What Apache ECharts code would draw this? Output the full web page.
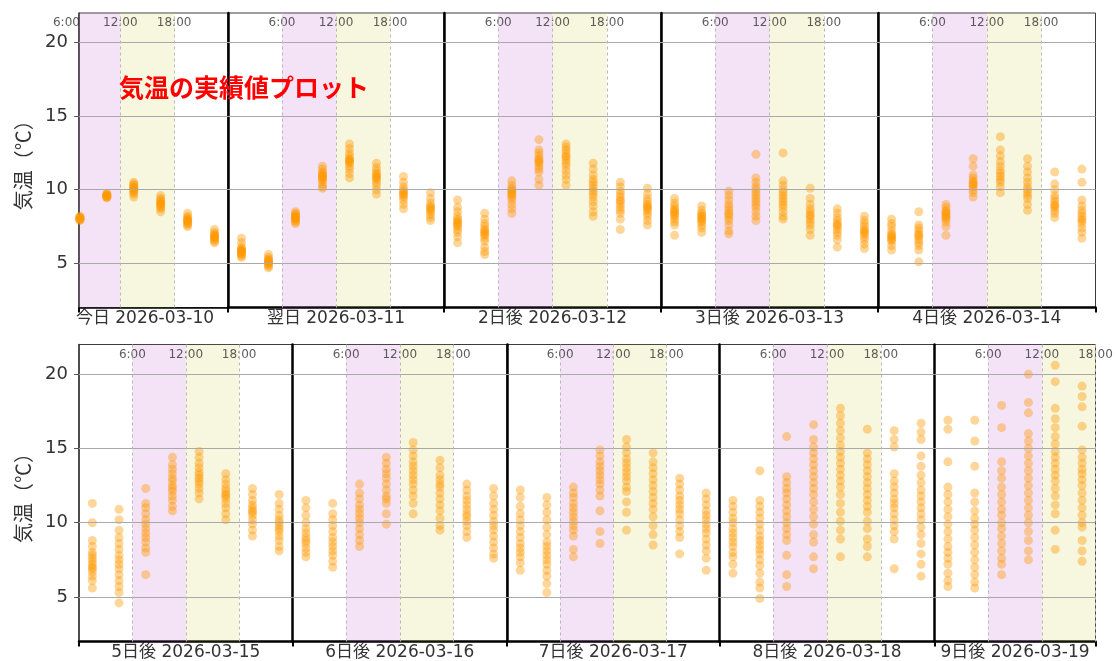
<!DOCTYPE html>
<html>
<head>
<meta charset="utf-8">
<script src="https://cdn.jsdelivr.net/npm/echarts@6/dist/echarts.min.js"></script>
<style>
  html, body { margin: 0; padding: 0; background: #fff; }
  #chart { width: 1117px; height: 661px; }
</style>
</head>
<body>
<div id="chart"></div>
<script>
// 3-hour slots, plotted at the middle of each slot (hours of the day)
const slotHours = [1.5, 4.5, 7.5, 10.5, 13.5, 16.5, 19.5, 22.5];
const bandHours = [6, 12, 18];
const yTicks = [5, 10, 15, 20];
const dayLabels = [
  '今日 2026-03-10', '翌日 2026-03-11', '2日後 2026-03-12', '3日後 2026-03-13', '4日後 2026-03-14',
  '5日後 2026-03-15', '6日後 2026-03-16', '7日後 2026-03-17', '8日後 2026-03-18', '9日後 2026-03-19'
];
// visible hour range of each day panel
const dayHourMin = [7.4, 0, 0, 0, 0, 0, 0, 0, 0, 0];
const dayHourMax = [24, 24, 24, 24, 24, 24, 24, 24, 24, 18];

// member temperatures (°C) for each slot of each day
const t0310 = [
  [], [],
  [8.2, 8.15, 8.1, 8.1, 8.05, 8.0, 8.0, 7.95, 7.9],
  [9.75, 9.7, 9.65, 9.6, 9.6, 9.55, 9.5, 9.5, 9.45],
  [10.5, 10.4, 10.3, 10.2, 10.15, 10.1, 10.05, 10.0, 9.9, 9.8, 9.7, 9.5],
  [9.6, 9.4, 9.3, 9.2, 9.1, 9.05, 9.0, 8.9, 8.8, 8.7, 8.5],
  [8.4, 8.2, 8.1, 8.0, 7.95, 7.9, 7.85, 7.8, 7.7, 7.6, 7.5],
  [7.3, 7.1, 7.0, 6.9, 6.85, 6.8, 6.75, 6.7, 6.6, 6.5, 6.4]
];
const t0311 = [
  [6.7, 6.4, 6.1, 6.0, 5.9, 5.9, 5.8, 5.8, 5.7, 5.7, 5.6, 5.5, 5.4],
  [5.6, 5.4, 5.3, 5.2, 5.2, 5.1, 5.1, 5.0, 5.0, 4.9, 4.8, 4.7],
  [8.5, 8.4, 8.3, 8.2, 8.2, 8.1, 8.1, 8.0, 8.0, 7.9, 7.8, 7.7],
  [11.6, 11.4, 11.2, 11.1, 11.0, 10.9, 10.9, 10.8, 10.7, 10.6, 10.4, 10.2, 10.1],
  [13.1, 12.8, 12.5, 12.3, 12.1, 12.0, 12.0, 11.9, 11.8, 11.6, 11.4, 11.1, 10.8],
  [11.8, 11.5, 11.3, 11.1, 11.0, 10.9, 10.8, 10.7, 10.5, 10.3, 10.0, 9.7],
  [10.9, 10.5, 10.2, 10.0, 9.9, 9.8, 9.7, 9.6, 9.5, 9.3, 9.0, 8.7],
  [9.8, 9.4, 9.1, 8.9, 8.8, 8.7, 8.6, 8.5, 8.3, 8.1, 7.9]
];
const t0312 = [
  [9.3, 8.8, 8.5, 8.2, 8.0, 7.9, 7.8, 7.7, 7.6, 7.5, 7.3, 7.1, 6.8, 6.4],
  [8.4, 8.0, 7.7, 7.5, 7.3, 7.2, 7.1, 7.0, 6.9, 6.7, 6.5, 6.1, 5.8, 5.6],
  [10.6, 10.3, 10.1, 10.0, 9.9, 9.8, 9.7, 9.6, 9.5, 9.3, 9.0, 8.7, 8.4],
  [13.4, 12.7, 12.5, 12.3, 12.1, 12.0, 11.9, 11.8, 11.6, 11.4, 11.2, 10.7, 10.3],
  [13.1, 12.9, 12.7, 12.5, 12.3, 12.2, 12.0, 11.8, 11.6, 11.3, 11.0, 10.7, 10.3],
  [11.8, 11.4, 11.0, 10.7, 10.5, 10.3, 10.1, 9.9, 9.7, 9.5, 9.2, 8.9, 8.5, 8.2],
  [10.5, 10.2, 9.9, 9.7, 9.5, 9.3, 9.2, 9.0, 8.8, 8.6, 8.4, 8.0, 7.3],
  [10.1, 9.7, 9.4, 9.2, 9.0, 8.9, 8.8, 8.7, 8.6, 8.4, 8.2, 7.9, 7.6]
];
const t0313 = [
  [9.4, 9.1, 8.9, 8.7, 8.6, 8.5, 8.4, 8.3, 8.2, 8.0, 7.8, 7.6, 6.9],
  [8.9, 8.6, 8.4, 8.3, 8.2, 8.1, 8.0, 7.9, 7.8, 7.6, 7.4, 7.1],
  [9.9, 9.6, 9.3, 9.0, 8.8, 8.6, 8.4, 8.3, 8.1, 7.9, 7.6, 7.2, 7.0],
  [12.4, 10.8, 10.5, 10.2, 10.0, 9.8, 9.6, 9.4, 9.2, 9.0, 8.8, 8.5, 8.2, 7.9],
  [12.5, 10.6, 10.3, 10.0, 9.8, 9.6, 9.4, 9.2, 9.0, 8.8, 8.5, 8.2, 8.0],
  [10.1, 9.4, 9.0, 8.7, 8.5, 8.3, 8.2, 8.0, 7.8, 7.6, 7.3, 6.9],
  [8.7, 8.4, 8.1, 7.9, 7.7, 7.6, 7.5, 7.3, 7.1, 6.9, 6.6, 6.1],
  [8.2, 7.9, 7.7, 7.5, 7.3, 7.2, 7.1, 7.0, 6.8, 6.6, 6.3, 6.0]
];
const t0314 = [
  [8.0, 7.7, 7.5, 7.2, 7.0, 6.9, 6.8, 6.7, 6.6, 6.5, 6.2, 5.9],
  [8.5, 7.6, 7.4, 7.2, 7.0, 6.9, 6.8, 6.6, 6.4, 6.2, 5.9, 5.1],
  [9.0, 8.8, 8.6, 8.5, 8.4, 8.3, 8.2, 8.1, 8.0, 7.8, 7.5, 6.9],
  [12.1, 11.6, 11.0, 10.8, 10.6, 10.5, 10.4, 10.3, 10.2, 10.0, 9.8, 9.5],
  [13.6, 12.7, 12.3, 11.9, 11.6, 11.3, 11.1, 10.9, 10.7, 10.5, 10.2, 9.8],
  [12.1, 11.6, 11.2, 10.8, 10.5, 10.2, 10.0, 9.8, 9.6, 9.4, 9.0, 8.6],
  [11.2, 10.4, 10.0, 9.6, 9.4, 9.2, 9.0, 8.9, 8.8, 8.6, 8.4, 8.1],
  [11.4, 10.5, 9.3, 8.9, 8.6, 8.4, 8.2, 8.0, 7.9, 7.7, 7.4, 7.1, 6.7]
];
const t0315 = [
  [11.3, 10.0, 8.8, 8.4, 8.0, 7.8, 7.6, 7.4, 7.2, 7.0, 6.9, 6.7, 6.4, 6.1, 5.6],
  [10.9, 10.2, 9.5, 9.0, 8.6, 8.2, 7.8, 7.5, 7.2, 6.9, 6.5, 6.1, 5.7, 5.3, 4.6],
  [12.3, 11.3, 11.0, 10.6, 10.2, 9.9, 9.6, 9.3, 9.0, 8.7, 8.3, 8.0, 6.5],
  [14.4, 13.9, 13.6, 13.3, 13.0, 12.8, 12.5, 12.3, 12.1, 11.8, 11.5, 11.1, 10.8],
  [14.8, 14.4, 14.0, 13.7, 13.4, 13.2, 13.0, 12.8, 12.6, 12.3, 12.0, 11.6],
  [13.3, 12.9, 12.6, 12.3, 12.1, 11.9, 11.8, 11.6, 11.3, 11.0, 10.6, 10.2],
  [12.3, 11.9, 11.5, 11.2, 11.0, 10.8, 10.7, 10.5, 10.2, 9.9, 9.5, 9.1],
  [11.9, 11.3, 10.9, 10.5, 10.2, 10.0, 9.8, 9.6, 9.4, 9.1, 8.8, 8.4, 8.1]
];
const t0316 = [
  [11.5, 11.0, 10.5, 10.0, 9.6, 9.3, 9.0, 8.8, 8.6, 8.3, 8.0, 7.7],
  [11.3, 10.6, 10.2, 9.8, 9.4, 9.0, 8.7, 8.4, 8.1, 7.8, 7.4, 7.0],
  [12.6, 12.0, 11.6, 11.2, 10.9, 10.6, 10.3, 10.0, 9.6, 9.2, 8.8, 8.4],
  [14.4, 14.0, 13.6, 13.3, 13.0, 12.6, 12.2, 11.8, 11.6, 11.3, 10.6, 9.9],
  [15.4, 14.9, 14.5, 14.1, 13.8, 13.5, 13.2, 12.9, 12.6, 12.2, 11.8, 11.3, 10.6],
  [14.2, 13.7, 13.2, 12.9, 12.6, 12.4, 12.0, 11.6, 11.2, 10.8, 10.3, 9.8, 9.5],
  [12.6, 12.2, 11.8, 11.5, 11.2, 10.9, 10.6, 10.4, 10.1, 9.8, 9.4, 9.0],
  [12.3, 11.8, 11.3, 10.9, 10.5, 10.1, 9.8, 9.5, 9.1, 8.7, 8.3, 7.9, 7.6]
];
const t0317 = [
  [12.2, 11.7, 11.1, 10.6, 10.2, 9.8, 9.4, 9.0, 8.6, 8.3, 8.0, 7.7, 7.3, 6.8],
  [11.7, 11.2, 10.7, 10.2, 9.7, 9.2, 8.7, 8.4, 8.1, 7.8, 7.5, 7.2, 6.8, 6.4, 5.9, 5.3],
  [12.4, 12.0, 11.7, 11.3, 11.0, 10.7, 10.4, 10.1, 9.8, 9.5, 9.1, 8.2, 7.7],
  [14.9, 14.5, 14.1, 13.8, 13.5, 13.2, 12.9, 12.6, 12.2, 11.8, 10.8, 9.4, 8.6],
  [15.6, 15.1, 14.7, 14.3, 14.0, 13.7, 13.4, 13.1, 12.8, 12.4, 12.1, 11.4, 10.7, 9.5],
  [14.7, 14.1, 13.7, 13.3, 12.9, 12.5, 12.1, 11.7, 11.3, 10.9, 10.4, 9.8, 9.2, 8.5],
  [13.0, 12.6, 12.2, 11.8, 11.5, 11.2, 10.9, 10.6, 10.2, 9.8, 9.4, 9.0, 7.9],
  [12.0, 11.6, 11.2, 10.8, 10.5, 10.2, 9.9, 9.6, 9.3, 8.9, 8.5, 8.1, 7.6, 6.8]
];
const t0318 = [
  [11.5, 11.1, 10.7, 10.3, 10.0, 9.6, 9.3, 9.0, 8.7, 8.4, 8.0, 7.7, 7.2, 6.6],
  [13.5, 11.5, 11.1, 10.7, 10.3, 9.9, 9.5, 9.1, 8.8, 8.5, 8.2, 7.9, 7.5, 7.1, 6.6, 6.0, 5.6, 4.9],
  [15.8, 13.1, 12.7, 12.3, 12.0, 11.6, 11.2, 10.8, 10.4, 10.0, 9.6, 9.2, 8.8, 7.8, 6.5, 5.7],
  [16.6, 15.6, 15.1, 14.7, 14.3, 13.9, 13.5, 13.1, 12.7, 12.3, 11.9, 11.4, 10.9, 10.4, 9.9, 9.2, 8.7, 7.7, 6.9],
  [17.7, 17.2, 16.7, 16.2, 15.7, 15.2, 14.8, 14.4, 14.0, 13.6, 13.2, 12.8, 12.4, 11.9, 11.3, 10.7, 10.1, 9.5, 8.9, 7.7],
  [16.3, 14.7, 14.3, 13.9, 13.5, 13.1, 12.7, 12.3, 11.9, 11.5, 11.1, 10.7, 10.1, 9.6, 8.9, 8.4, 7.7],
  [16.2, 15.6, 15.1, 13.3, 12.8, 12.4, 12.0, 11.6, 11.3, 11.0, 10.6, 10.2, 9.8, 9.4, 8.9, 6.9],
  [16.7, 16.1, 15.6, 14.5, 13.8, 13.2, 12.7, 12.2, 11.8, 11.4, 11.0, 10.6, 10.2, 9.7, 9.2, 8.6, 7.9, 7.2, 6.4]
];
const t0319 = [
  [16.9, 16.3, 14.1, 12.4, 11.9, 11.4, 10.9, 10.4, 9.9, 9.4, 8.9, 8.4, 8.0, 7.6, 7.2, 6.6, 6.1, 5.7],
  [16.9, 15.5, 13.8, 12.0, 11.4, 10.8, 10.3, 9.9, 9.5, 9.0, 8.5, 8.0, 7.5, 7.0, 6.5, 6.0, 5.6],
  [17.9, 16.4, 14.1, 13.5, 13.0, 12.4, 11.9, 11.4, 10.9, 10.5, 10.0, 9.6, 9.1, 8.6, 8.1, 7.6, 7.2, 6.5],
  [20.0, 18.1, 17.4, 16.0, 15.5, 15.0, 14.5, 14.0, 13.5, 13.0, 12.5, 12.0, 11.5, 11.0, 10.5, 10.0, 9.4, 8.8, 8.1, 7.5],
  [20.6, 19.5, 17.7, 17.0, 16.4, 15.8, 15.3, 14.8, 14.4, 14.0, 13.6, 13.2, 12.8, 12.3, 11.8, 11.2, 10.6, 9.5, 8.2],
  [19.2, 18.5, 17.8, 16.5, 14.9, 14.4, 14.0, 13.6, 13.3, 12.9, 12.5, 12.0, 11.5, 11.0, 10.5, 10.0, 9.7, 8.8, 8.1, 7.4]
];
const dayTemps = [t0310, t0311, t0312, t0313, t0314, t0315, t0316, t0317, t0318, t0319];

// panel layout (pixels)
const rowLayout = [
  { top: 13, height: 294.5, edges: [79, 228, 444, 661, 878, 1095.5] },
  { top: 344.5, height: 297, edges: [79, 292.5, 507, 719.5, 934.5, 1095.5] }
];
const timeLabelY = 21.32;
const latinCjk = "'DejaVu Sans', 'Noto Sans CJK JP', sans-serif";

const option = {
  animation: false,
  backgroundColor: '#ffffff',
  title: {
    text: '気温の実績値プロット',
    left: 119, top: 75, padding: 0, z: 20,
    textStyle: { color: '#ff0000', fontSize: 25, fontWeight: 'bold', fontFamily: "'Noto Sans CJK JP', sans-serif" }
  },
  grid: [], xAxis: [], yAxis: [], series: []
};

dayLabels.forEach((label, i) => {
  const row = rowLayout[i < 5 ? 0 : 1];
  const col = i % 5;
  const left = row.edges[col];
  const width = row.edges[col + 1] - left;
  const xmin = dayHourMin[i], xmax = dayHourMax[i];
  const first = col === 0;

  option.grid.push({
    left: left, top: row.top, width: width, height: row.height,
    show: true, borderColor: '#3c3c3c', borderWidth: 1,
    containLabel: false, outerBoundsMode: 'none'
  });

  option.xAxis.push({
    gridIndex: i, type: 'value', min: xmin, max: xmax,
    axisLabel: { show: false },
    splitLine: { show: false },
    axisTick: { show: true, customValues: [xmin, xmax], length: 5, lineStyle: { color: '#000', width: 2 } },
    axisLine: { show: true, onZero: false, lineStyle: { color: '#000', width: i === 0 ? 1.5 : 2.5 } },
    name: label, nameLocation: 'middle', nameGap: 3,
    nameTextStyle: {
      fontSize: 17, color: '#333', fontFamily: latinCjk,
      padding: i === 0 ? [0, 17, 0, 0] : 0
    }
  });

  option.yAxis.push({
    gridIndex: i, type: 'value', min: 2, max: 22,
    axisLine: { show: true, onZero: false, lineStyle: { color: first ? '#333' : '#000', width: first ? 1.5 : 2.5 } },
    axisTick: { show: first, customValues: yTicks, length: 5, lineStyle: { color: '#555' } },
    axisLabel: { show: first, customValues: yTicks, margin: 11, fontSize: 18, color: '#333', fontFamily: latinCjk },
    splitLine: { show: false },
    name: first ? '気温（℃）' : '', nameLocation: 'middle', nameGap: 46, nameRotate: 90,
    nameTextStyle: { fontSize: 20, color: '#333', fontFamily: "'Noto Sans CJK JP', sans-serif" }
  });

  // background bands, grid lines and time labels
  const lines = yTicks.map(v => ({ yAxis: v, lineStyle: { color: '#a9a9a9', width: 1, type: 'solid' } }));
  bandHours.filter(h => h > xmin && h <= xmax).forEach(h => {
    lines.push({ xAxis: h, lineStyle: { color: '#b8b8b8', width: 1, type: [3, 3] } });
  });
  option.series.push({
    type: 'scatter', xAxisIndex: i, yAxisIndex: i, silent: true, clip: false,
    symbol: 'circle', symbolSize: 1, itemStyle: { color: 'rgba(0,0,0,0)' },
    data: bandHours.map(h => [h, timeLabelY]),
    label: {
      show: true, position: 'inside', formatter: p => p.value[0] + ':00',
      fontSize: 12, color: '#333', fontFamily: latinCjk
    },
    markArea: {
      silent: true,
      data: [
        [{ xAxis: Math.max(6, xmin), itemStyle: { color: 'rgba(200,110,215,0.2)' } }, { xAxis: Math.min(12, xmax) }],
        [{ xAxis: 12, itemStyle: { color: 'rgba(215,205,80,0.19)' } }, { xAxis: Math.min(18, xmax) }]
      ]
    },
    markLine: { silent: true, symbol: 'none', label: { show: false }, animation: false, data: lines }
  });

  // member dots
  const pts = [];
  dayTemps[i].forEach((vals, j) => vals.forEach(v => pts.push([slotHours[j], v])));
  option.series.push({
    type: 'scatter', xAxisIndex: i, yAxisIndex: i, silent: true,
    symbolSize: 9,
    itemStyle: { color: '#ff9800', opacity: 0.4 },
    data: pts
  });
});

const chart = echarts.init(document.getElementById('chart'), null, { renderer: 'canvas' });
chart.setOption(option);
</script>
</body>
</html>
